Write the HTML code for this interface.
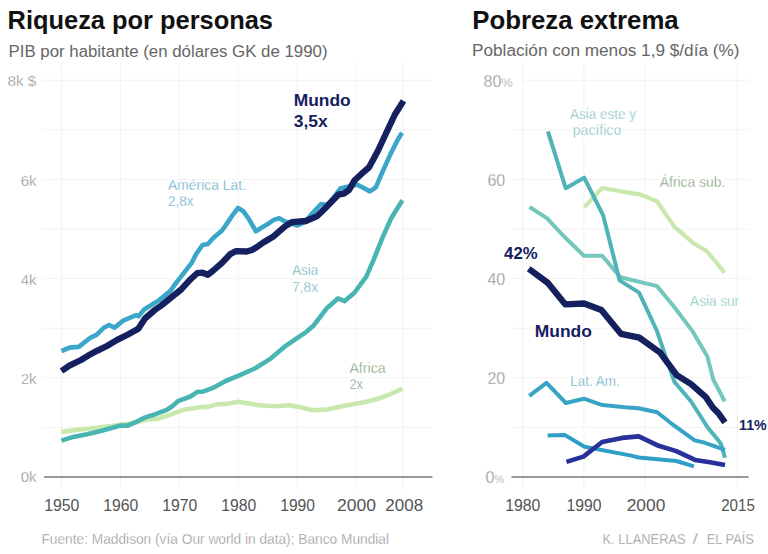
<!DOCTYPE html>
<html><head><meta charset="utf-8"><style>
html,body{margin:0;padding:0;background:#fff;width:768px;height:554px;overflow:hidden}
svg{display:block;font-family:'Liberation Sans',sans-serif}
text{font-family:'Liberation Sans',sans-serif}
</style></head><body>
<svg width="768" height="554" viewBox="0 0 768 554">
<rect width="768" height="554" fill="#fff"/>
<g stroke="#f2f2f2" stroke-width="1" fill="none"><line x1="42" y1="427.4" x2="432" y2="427.4" /><line x1="42" y1="377.8" x2="432" y2="377.8" /><line x1="42" y1="328.2" x2="432" y2="328.2" /><line x1="42" y1="278.6" x2="432" y2="278.6" /><line x1="42" y1="229.0" x2="432" y2="229.0" /><line x1="42" y1="179.4" x2="432" y2="179.4" /><line x1="42" y1="129.8" x2="432" y2="129.8" /><line x1="42" y1="80.2" x2="432" y2="80.2" /><line x1="61.6" y1="63" x2="61.6" y2="490" /><line x1="120.4" y1="63" x2="120.4" y2="490" /><line x1="179.3" y1="63" x2="179.3" y2="490" /><line x1="238.1" y1="63" x2="238.1" y2="490" /><line x1="297.0" y1="63" x2="297.0" y2="490" /><line x1="355.8" y1="63" x2="355.8" y2="490" /><line x1="403" y1="63" x2="403" y2="490" /><line x1="511.5" y1="427.4" x2="749" y2="427.4" /><line x1="511.5" y1="377.8" x2="749" y2="377.8" /><line x1="511.5" y1="328.2" x2="749" y2="328.2" /><line x1="511.5" y1="278.6" x2="749" y2="278.6" /><line x1="511.5" y1="229.0" x2="749" y2="229.0" /><line x1="511.5" y1="179.4" x2="749" y2="179.4" /><line x1="511.5" y1="129.8" x2="749" y2="129.8" /><line x1="522" y1="80.2" x2="749" y2="80.2" /><line x1="522.8" y1="63" x2="522.8" y2="490" /><line x1="583.9" y1="63" x2="583.9" y2="490" /><line x1="644.9" y1="63" x2="644.9" y2="490" /><line x1="737.5" y1="63" x2="737.5" y2="490" /></g><line x1="44" y1="477" x2="432.5" y2="477" stroke="#9a9a9a" stroke-width="2"/><line x1="511.5" y1="477" x2="748.6" y2="477" stroke="#9a9a9a" stroke-width="2"/><polyline points="61.4,431.9 82.3,429.2 100.6,427.3 118.8,425.0 132.0,423.0 149.0,419.3 157.9,418.7 167.0,415.7 173.1,413.6 183.2,409.8 200.0,407.3 207.9,406.9 216.7,404.4 228.1,403.7 238.2,401.8 255.0,404.4 258.8,405.2 274.7,406.2 288.6,405.2 300.5,407.2 312.9,410.2 327.2,409.5 343.0,405.9 364.5,402.3 380.2,398.0 391.7,393.7 402.4,388.7" fill="none" stroke="#c9e8ad" stroke-width="4.6" stroke-linejoin="round" stroke-linecap="butt"/><polyline points="61.4,440.6 73.2,436.9 86.9,434.2 100.6,431.0 114.3,427.3 120.0,425.6 127.6,425.6 136.4,421.8 145.3,417.4 155.4,414.2 166.8,409.8 172.0,406.5 178.2,401.0 181.3,399.9 190.5,396.5 197.8,391.7 202.8,391.7 212.9,387.9 225.6,381.0 238.2,375.9 254.8,368.5 270.7,358.6 284.6,346.7 294.5,339.8 306.4,331.8 313.6,325.5 327.1,307.9 337.9,298.4 344.7,301.1 354.2,293.0 366.3,276.7 373.8,259.3 382.5,237.6 391.2,218.2 402.4,200.3" fill="none" stroke="#48b5b2" stroke-width="4.6" stroke-linejoin="round" stroke-linecap="butt"/><polyline points="61.5,351.2 69.4,347.6 78.8,346.9 89.6,338.2 96.8,334.6 103.7,327.8 109.1,325.0 114.5,327.6 123.2,320.6 136.2,315.2 138.5,316.3 144.2,309.5 159.1,300.1 169.9,291.4 176.5,282.4 184.1,272.7 191.7,262.9 196.0,254.3 202.5,245.0 207.9,244.0 213.3,238.0 222.0,230.4 225.0,226.4 231.5,216.7 238.0,208.0 243.4,211.3 248.8,218.8 255.9,231.3 261.8,227.5 268.3,223.7 273.8,219.9 279.2,218.3 285.0,221.5 297.5,225.5 305.0,222.0 313.0,212.5 321.0,204.0 327.0,205.0 334.0,197.0 340.5,188.5 346.0,187.0 352.0,186.0 357.0,184.5 369.9,191.4 375.8,187.4 381.8,173.5 389.8,155.6 397.7,139.7 402.1,132.7" fill="none" stroke="#3ba6c8" stroke-width="4.6" stroke-linejoin="round" stroke-linecap="butt"/><polyline points="61.5,371.0 69.4,365.7 81.0,360.0 88.2,355.6 97.0,350.8 106.9,346.0 116.7,340.1 127.5,334.7 138.3,328.7 145.0,318.5 154.8,310.0 161.3,305.5 172.1,296.8 180.8,289.8 190.6,279.2 197.1,273.2 202.5,272.7 207.9,274.8 213.3,270.5 222.0,262.9 230.0,254.3 235.8,251.2 246.7,251.5 252.0,250.0 255.3,248.1 262.9,242.7 273.8,236.2 285.0,226.4 291.8,222.2 305.8,221.0 316.7,216.4 327.5,205.9 338.3,194.7 343.8,193.6 349.2,189.8 354.4,180.5 361.7,173.7 368.9,167.5 377.6,151.5 386.2,133.0 394.9,114.5 403.5,100.8" fill="none" stroke="#15205f" stroke-width="6.3" stroke-linejoin="round" stroke-linecap="butt"/><polyline points="584.3,207.3 602.0,188.0 620.3,191.3 639.6,194.3 657.1,201.4 674.7,227.1 694.4,243.8 706.7,251.0 724.7,272.7" fill="none" stroke="#c9e8ad" stroke-width="4.2" stroke-linejoin="round" stroke-linecap="butt"/><polyline points="529.5,207.0 547.2,218.4 563.0,235.5 583.9,255.7 602.2,255.7 620.4,277.2 657.0,286.1 673.3,305.7 693.0,331.9 707.4,356.5 713.2,379.5 724.7,401.2" fill="none" stroke="#73c7bb" stroke-width="4" stroke-linejoin="round" stroke-linecap="butt"/><polyline points="547.9,131.4 565.7,188.2 584.1,177.7 603.2,215.4 619.6,280.4 639.1,292.6 657.0,331.0 665.8,357.1 674.5,382.0 691.1,401.5 707.7,427.5 714.9,436.1 720.7,443.4 725.0,457.8" fill="none" stroke="#4fb3b7" stroke-width="4" stroke-linejoin="round" stroke-linecap="butt"/><polyline points="547.6,435.5 564.6,434.9 584.5,446.7 630.0,455.4 638.8,457.5 676.3,461.0 693.9,466.3" fill="none" stroke="#2ea0c8" stroke-width="4" stroke-linejoin="round" stroke-linecap="butt"/><polyline points="529.3,395.8 546.5,382.9 565.9,403.0 583.8,398.7 602.4,405.1 625.0,407.3 638.4,408.2 657.2,412.3 673.6,425.2 694.7,440.4 705.0,442.8 725.0,449.9" fill="none" stroke="#37a4c6" stroke-width="4" stroke-linejoin="round" stroke-linecap="butt"/><polyline points="566.4,461.9 583.4,456.6 602.1,442.0 622.1,437.9 638.8,436.4 658.7,445.8 676.3,451.1 695.0,459.9 710.0,462.2 725.0,465.0" fill="none" stroke="#28309a" stroke-width="4.6" stroke-linejoin="round" stroke-linecap="butt"/><polyline points="528.7,268.7 547.5,282.6 565.4,304.4 584.1,303.5 601.4,310.0 620.9,333.8 639.3,337.6 660.3,352.8 676.7,375.1 691.1,384.2 705.6,396.8 712.8,407.6 718.2,413.0 725.0,422.4" fill="none" stroke="#15205f" stroke-width="6.3" stroke-linejoin="round" stroke-linecap="butt"/>
<text x="7.6" y="29.2" font-size="25" font-weight="bold" text-anchor="start" textLength="265.4" lengthAdjust="spacingAndGlyphs" fill="#111">Riqueza por personas</text><text x="472.2" y="29.2" font-size="25" font-weight="bold" text-anchor="start" textLength="206.5" lengthAdjust="spacingAndGlyphs" fill="#111">Pobreza extrema</text><text x="8.5" y="56.5" font-size="16" font-weight="normal" text-anchor="start" textLength="319" lengthAdjust="spacingAndGlyphs" fill="#666">PIB por habitante (en dólares GK de 1990)</text><text x="472" y="56.3" font-size="16" font-weight="normal" text-anchor="start" textLength="267.5" lengthAdjust="spacingAndGlyphs" fill="#666">Población con menos 1,9 $/día (%)</text><text x="7.4" y="86.2" font-size="15" font-weight="normal" text-anchor="start" textLength="28.9" lengthAdjust="spacingAndGlyphs" fill="#8e8e8e" stroke="#fff" stroke-width="0.3">8k $</text><text x="36.6" y="185.6" font-size="15" font-weight="normal" text-anchor="end" fill="#8e8e8e" stroke="#fff" stroke-width="0.3">6k</text><text x="36.6" y="284.5" font-size="15" font-weight="normal" text-anchor="end" fill="#8e8e8e" stroke="#fff" stroke-width="0.3">4k</text><text x="36.6" y="383.5" font-size="15" font-weight="normal" text-anchor="end" fill="#8e8e8e" stroke="#fff" stroke-width="0.3">2k</text><text x="36.6" y="482.4" font-size="15" font-weight="normal" text-anchor="end" fill="#8e8e8e" stroke="#fff" stroke-width="0.3">0k</text><text x="61.8" y="510.6" font-size="16" font-weight="normal" text-anchor="middle" textLength="35.2" lengthAdjust="spacingAndGlyphs" fill="#545454">1950</text><text x="120.8" y="510.6" font-size="16" font-weight="normal" text-anchor="middle" textLength="35" lengthAdjust="spacingAndGlyphs" fill="#545454">1960</text><text x="179.7" y="510.6" font-size="16" font-weight="normal" text-anchor="middle" textLength="35" lengthAdjust="spacingAndGlyphs" fill="#545454">1970</text><text x="238.7" y="510.6" font-size="16" font-weight="normal" text-anchor="middle" textLength="35" lengthAdjust="spacingAndGlyphs" fill="#545454">1980</text><text x="297.6" y="510.6" font-size="16" font-weight="normal" text-anchor="middle" textLength="34.8" lengthAdjust="spacingAndGlyphs" fill="#545454">1990</text><text x="356.6" y="510.6" font-size="16" font-weight="normal" text-anchor="middle" textLength="39" lengthAdjust="spacingAndGlyphs" fill="#545454">2000</text><text x="404.2" y="510.6" font-size="16" font-weight="normal" text-anchor="middle" textLength="37.8" lengthAdjust="spacingAndGlyphs" fill="#545454">2008</text><text x="483.5" y="87" font-size="16" font-weight="normal" text-anchor="start" fill="#8e8e8e" stroke="#fff" stroke-width="0.3">80<tspan font-size="13">%</tspan></text><text x="505.2" y="185.7" font-size="16" font-weight="normal" text-anchor="end" fill="#8e8e8e" stroke="#fff" stroke-width="0.3">60</text><text x="505.2" y="284.8" font-size="16" font-weight="normal" text-anchor="end" fill="#8e8e8e" stroke="#fff" stroke-width="0.3">40</text><text x="505.2" y="384.1" font-size="16" font-weight="normal" text-anchor="end" fill="#8e8e8e" stroke="#fff" stroke-width="0.3">20</text><text x="485.5" y="482.8" font-size="16" font-weight="normal" text-anchor="start" fill="#8e8e8e" stroke="#fff" stroke-width="0.3">0<tspan font-size="11">%</tspan></text><text x="522.8" y="510.6" font-size="16" font-weight="normal" text-anchor="middle" textLength="35.2" lengthAdjust="spacingAndGlyphs" fill="#545454">1980</text><text x="583.9" y="510.6" font-size="16" font-weight="normal" text-anchor="middle" textLength="35" lengthAdjust="spacingAndGlyphs" fill="#545454">1990</text><text x="646" y="510.6" font-size="16" font-weight="normal" text-anchor="middle" textLength="38.6" lengthAdjust="spacingAndGlyphs" fill="#545454">2000</text><text x="738" y="510.6" font-size="16" font-weight="normal" text-anchor="middle" textLength="33.7" lengthAdjust="spacingAndGlyphs" fill="#545454">2015</text><text x="293.7" y="105.5" font-size="17.4" font-weight="bold" text-anchor="start" textLength="57" lengthAdjust="spacingAndGlyphs" fill="#fff" stroke="#fff" stroke-width="4" stroke-linejoin="round">Mundo</text><text x="293.7" y="105.5" font-size="17.4" font-weight="bold" text-anchor="start" textLength="57" lengthAdjust="spacingAndGlyphs" fill="#15205f">Mundo</text><text x="293.7" y="126.5" font-size="17.4" font-weight="bold" text-anchor="start" textLength="34" lengthAdjust="spacingAndGlyphs" fill="#fff" stroke="#fff" stroke-width="4" stroke-linejoin="round">3,5x</text><text x="293.7" y="126.5" font-size="17.4" font-weight="bold" text-anchor="start" textLength="34" lengthAdjust="spacingAndGlyphs" fill="#15205f">3,5x</text><text x="168" y="190.2" font-size="14" font-weight="normal" text-anchor="start" textLength="78" lengthAdjust="spacingAndGlyphs" fill="#fff" stroke="#fff" stroke-width="4" stroke-linejoin="round">América Lat.</text><text x="168" y="190.2" font-size="14" font-weight="normal" text-anchor="start" textLength="78" lengthAdjust="spacingAndGlyphs" fill="#5ea8c3" stroke="#fff" stroke-width="0.3">América Lat.</text><text x="168" y="206.3" font-size="14" font-weight="normal" text-anchor="start" textLength="25.4" lengthAdjust="spacingAndGlyphs" fill="#fff" stroke="#fff" stroke-width="4" stroke-linejoin="round">2,8x</text><text x="168" y="206.3" font-size="14" font-weight="normal" text-anchor="start" textLength="25.4" lengthAdjust="spacingAndGlyphs" fill="#5ea8c3" stroke="#fff" stroke-width="0.3">2,8x</text><text x="292.2" y="275.1" font-size="14" font-weight="normal" text-anchor="start" textLength="25.9" lengthAdjust="spacingAndGlyphs" fill="#fff" stroke="#fff" stroke-width="4" stroke-linejoin="round">Asia</text><text x="292.2" y="275.1" font-size="14" font-weight="normal" text-anchor="start" textLength="25.9" lengthAdjust="spacingAndGlyphs" fill="#6ab3b6" stroke="#fff" stroke-width="0.3">Asia</text><text x="292.2" y="291.9" font-size="14" font-weight="normal" text-anchor="start" textLength="25.8" lengthAdjust="spacingAndGlyphs" fill="#fff" stroke="#fff" stroke-width="4" stroke-linejoin="round">7,8x</text><text x="292.2" y="291.9" font-size="14" font-weight="normal" text-anchor="start" textLength="25.8" lengthAdjust="spacingAndGlyphs" fill="#6ab3b6" stroke="#fff" stroke-width="0.3">7,8x</text><text x="349.4" y="372.6" font-size="14" font-weight="normal" text-anchor="start" textLength="36.3" lengthAdjust="spacingAndGlyphs" fill="#fff" stroke="#fff" stroke-width="4" stroke-linejoin="round">Africa</text><text x="349.4" y="372.6" font-size="14" font-weight="normal" text-anchor="start" textLength="36.3" lengthAdjust="spacingAndGlyphs" fill="#7b9c78" stroke="#fff" stroke-width="0.3">Africa</text><text x="349.4" y="388.7" font-size="14" font-weight="normal" text-anchor="start" textLength="13.6" lengthAdjust="spacingAndGlyphs" fill="#fff" stroke="#fff" stroke-width="4" stroke-linejoin="round">2x</text><text x="349.4" y="388.7" font-size="14" font-weight="normal" text-anchor="start" textLength="13.6" lengthAdjust="spacingAndGlyphs" fill="#7b9c78" stroke="#fff" stroke-width="0.3">2x</text><text x="570" y="118.7" font-size="14" font-weight="normal" text-anchor="start" textLength="66" lengthAdjust="spacingAndGlyphs" fill="#fff" stroke="#fff" stroke-width="4" stroke-linejoin="round">Asia este y</text><text x="570" y="118.7" font-size="14" font-weight="normal" text-anchor="start" textLength="66" lengthAdjust="spacingAndGlyphs" fill="#7cbfbf" stroke="#fff" stroke-width="0.3">Asia este y</text><text x="572.8" y="134.8" font-size="14" font-weight="normal" text-anchor="start" textLength="48.4" lengthAdjust="spacingAndGlyphs" fill="#fff" stroke="#fff" stroke-width="4" stroke-linejoin="round">pacífico</text><text x="572.8" y="134.8" font-size="14" font-weight="normal" text-anchor="start" textLength="48.4" lengthAdjust="spacingAndGlyphs" fill="#7cbfbf" stroke="#fff" stroke-width="0.3">pacífico</text><text x="659.8" y="186.5" font-size="14" font-weight="normal" text-anchor="start" textLength="65.5" lengthAdjust="spacingAndGlyphs" fill="#fff" stroke="#fff" stroke-width="4" stroke-linejoin="round">África sub.</text><text x="659.8" y="186.5" font-size="14" font-weight="normal" text-anchor="start" textLength="65.5" lengthAdjust="spacingAndGlyphs" fill="#7b9c78" stroke="#fff" stroke-width="0.3">África sub.</text><text x="690.1" y="306" font-size="14" font-weight="normal" text-anchor="start" textLength="49" lengthAdjust="spacingAndGlyphs" fill="#fff" stroke="#fff" stroke-width="4" stroke-linejoin="round">Asia sur</text><text x="690.1" y="306" font-size="14" font-weight="normal" text-anchor="start" textLength="49" lengthAdjust="spacingAndGlyphs" fill="#7ac3ba" stroke="#fff" stroke-width="0.3">Asia sur</text><text x="570.2" y="386.2" font-size="14" font-weight="normal" text-anchor="start" textLength="49.4" lengthAdjust="spacingAndGlyphs" fill="#fff" stroke="#fff" stroke-width="4" stroke-linejoin="round">Lat. Am.</text><text x="570.2" y="386.2" font-size="14" font-weight="normal" text-anchor="start" textLength="49.4" lengthAdjust="spacingAndGlyphs" fill="#5ea8c3" stroke="#fff" stroke-width="0.3">Lat. Am.</text><text x="504.1" y="258.9" font-size="16.5" font-weight="bold" text-anchor="start" textLength="33.5" lengthAdjust="spacingAndGlyphs" fill="#fff" stroke="#fff" stroke-width="4" stroke-linejoin="round">42%</text><text x="504.1" y="258.9" font-size="16.5" font-weight="bold" text-anchor="start" textLength="33.5" lengthAdjust="spacingAndGlyphs" fill="#15205f">42%</text><text x="534.8" y="336.7" font-size="17.4" font-weight="bold" text-anchor="start" textLength="57.1" lengthAdjust="spacingAndGlyphs" fill="#fff" stroke="#fff" stroke-width="4" stroke-linejoin="round">Mundo</text><text x="534.8" y="336.7" font-size="17.4" font-weight="bold" text-anchor="start" textLength="57.1" lengthAdjust="spacingAndGlyphs" fill="#15205f">Mundo</text><text x="739.1" y="429.8" font-size="15.5" font-weight="bold" text-anchor="start" textLength="27.5" lengthAdjust="spacingAndGlyphs" fill="#fff" stroke="#fff" stroke-width="4" stroke-linejoin="round">11%</text><text x="739.1" y="429.8" font-size="15.5" font-weight="bold" text-anchor="start" textLength="27.5" lengthAdjust="spacingAndGlyphs" fill="#15205f">11%</text><text x="41.5" y="544.3" font-size="14" font-weight="normal" text-anchor="start" textLength="347.5" lengthAdjust="spacingAndGlyphs" fill="#909090" stroke="#fff" stroke-width="0.3">Fuente: Maddison (vía Our world in data); Banco Mundial</text><text x="602.5" y="544.1" font-size="14" font-weight="normal" text-anchor="start" textLength="83.2" lengthAdjust="spacingAndGlyphs" fill="#909090" stroke="#fff" stroke-width="0.3">K. LLANERAS</text><text x="692.4" y="544.1" font-size="14" font-weight="normal" text-anchor="start" textLength="5.5" lengthAdjust="spacingAndGlyphs" fill="#909090" stroke="#fff" stroke-width="0.3">/</text><text x="706.8" y="544.1" font-size="14" font-weight="normal" text-anchor="start" textLength="47.1" lengthAdjust="spacingAndGlyphs" fill="#909090" stroke="#fff" stroke-width="0.3">EL PAÍS</text>
</svg>
</body></html>
